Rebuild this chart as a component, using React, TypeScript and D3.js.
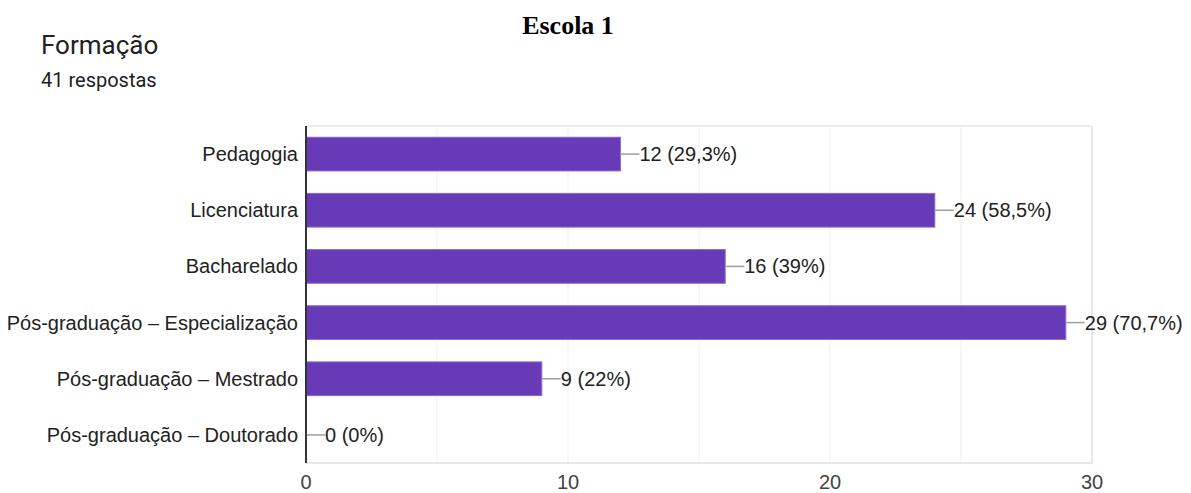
import React from "react";
import * as d3 from "d3";

const categories = [
  "Pedagogia",
  "Licenciatura",
  "Bacharelado",
  "Pós-graduação – Especialização",
  "Pós-graduação – Mestrado",
  "Pós-graduação – Doutorado",
];
const counts = [12, 24, 16, 29, 9, 0];
const valueLabels = ["12 (29,3%)", "24 (58,5%)", "16 (39%)", "29 (70,7%)", "9 (22%)", "0 (0%)"];
const ticks = [0, 10, 20, 30];
const gridTicks = [0, 5, 10, 15, 20, 25, 30];

export default function App() {
  const W = 1191, H = 493;
  const left = 306, right = 1092, top = 126, bottom = 463;
  const x = d3.scaleLinear().domain([0, 30]).range([left, right]);
  const y = d3.scaleBand<string>().domain(categories).range([top, bottom]).paddingInner(0.4).paddingOuter(0.2);
  const font = "Roboto, 'Noto Sans', Arial, sans-serif";
  const afont = "'Liberation Sans', Arial, sans-serif";
  return (
    <svg width={W} height={H} style={{ position: "absolute", left: 0, top: 0 }}>
      <rect width={W} height={H} fill="#fff" />
      <text x={568} y={34} textAnchor="middle" fontFamily="'Liberation Serif', 'Times New Roman', serif" fontWeight="bold" fontSize={26} fill="#000">Escola 1</text>
      <text x={41} y={54} fontFamily={font} fontSize={26} fill="#202124">Formação</text>
      <text x={41} y={87} fontFamily={font} fontSize={20} fill="#202124">41 respostas</text>
      {gridTicks.map((t) => (
        <line key={t} x1={x(t)} x2={x(t)} y1={top} y2={bottom} stroke={t === 30 ? "#e8e8e8" : "#efefef"} strokeWidth={t === 30 ? 2 : 1} />
      ))}
      <line x1={left} x2={right} y1={top} y2={top} stroke="#ececec" strokeWidth={2} />
      <line x1={left} x2={right + 1} y1={bottom} y2={bottom} stroke="#e8e8e8" strokeWidth={2} />
      {categories.map((c, i) => {
        const yc = (y(c) as number) + y.bandwidth() / 2;
        const xe = x(counts[i]);
        return (
          <g key={c}>
            {counts[i] > 0 && (
              <rect x={left} y={y(c)} width={xe - left} height={y.bandwidth()} fill="#673ab7" stroke="#8c67d0" strokeWidth={1} />
            )}
            <line x1={xe} x2={xe + 19} y1={yc} y2={yc} stroke="#9e9e9e" strokeWidth={1.5} />
            <text x={xe + 19} y={yc} dy="0.35em" fontFamily={afont} fontSize={20} fill="#222">{valueLabels[i]}</text>
            <text x={298} y={yc} dy="0.35em" textAnchor="end" fontFamily={afont} fontSize={20} fill="#222">{c}</text>
          </g>
        );
      })}
      <line x1={left} x2={left} y1={top} y2={bottom} stroke="#333" strokeWidth={2} />
      {ticks.map((t) => (
        <text key={t} x={x(t)} y={489} textAnchor="middle" fontFamily={afont} fontSize={20} fill="#444">{t}</text>
      ))}
    </svg>
  );
}
